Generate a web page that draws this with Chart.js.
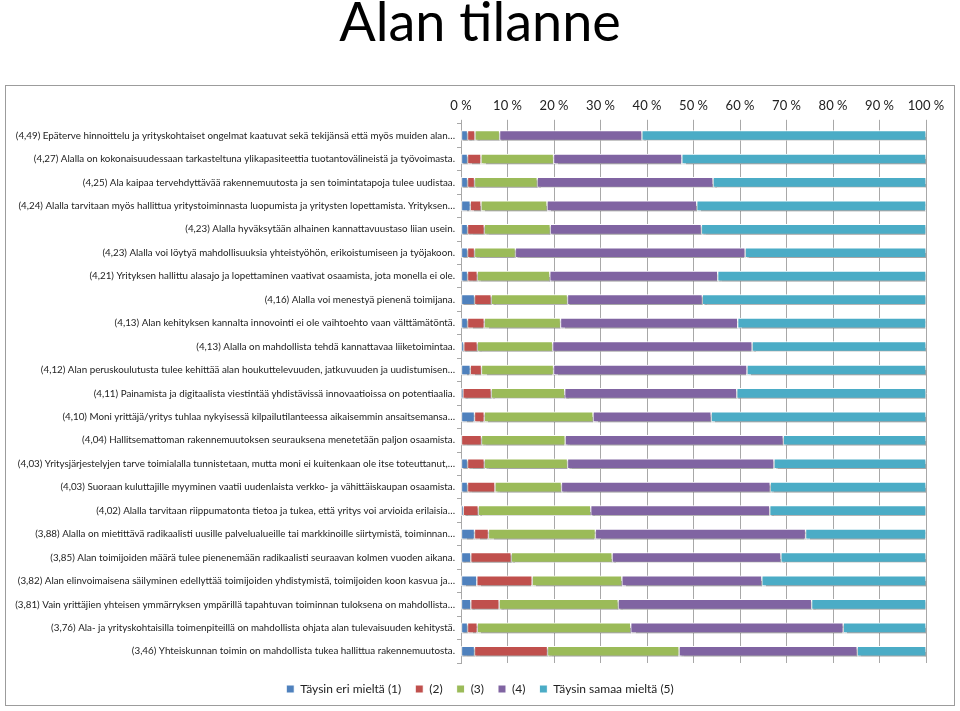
<!DOCTYPE html>
<html>
<head>
<meta charset="utf-8">
<script src="https://cdn.jsdelivr.net/npm/chart.js@4.4.1/dist/chart.umd.min.js"></script>
<style>
html,body{margin:0;padding:0;background:#fff;}
#wrap{position:relative;width:960px;height:711px;}
</style>
</head>
<body>
<div id="wrap"><canvas id="c" width="960" height="711"></canvas></div>
<script>
const titleText = "Alan tilanne";
const categories = [
  "(4,49) Epäterve hinnoittelu ja yrityskohtaiset ongelmat kaatuvat sekä tekijänsä että myös muiden alan…",
  "(4,27) Alalla on kokonaisuudessaan tarkasteltuna ylikapasiteettia tuotantovälineistä ja työvoimasta.",
  "(4,25) Ala kaipaa tervehdyttävää rakennemuutosta ja sen toimintatapoja tulee uudistaa.",
  "(4,24) Alalla tarvitaan myös hallittua yritystoiminnasta luopumista ja yritysten lopettamista. Yrityksen…",
  "(4,23) Alalla hyväksytään alhainen kannattavuustaso liian usein.",
  "(4,23) Alalla voi löytyä mahdollisuuksia yhteistyöhön, erikoistumiseen ja työjakoon.",
  "(4,21) Yrityksen hallittu alasajo ja lopettaminen vaativat osaamista, jota monella ei ole.",
  "(4,16) Alalla voi menestyä pienenä toimijana.",
  "(4,13) Alan kehityksen kannalta innovointi ei ole vaihtoehto vaan välttämätöntä.",
  "(4,13) Alalla on mahdollista tehdä kannattavaa liiketoimintaa.",
  "(4,12) Alan peruskoulutusta tulee kehittää alan houkuttelevuuden, jatkuvuuden ja uudistumisen…",
  "(4,11) Painamista ja digitaalista viestintää yhdistävissä innovaatioissa on potentiaalia.",
  "(4,10) Moni yrittäjä/yritys tuhlaa nykyisessä kilpailutilanteessa aikaisemmin ansaitsemansa…",
  "(4,04) Hallitsemattoman rakennemuutoksen seurauksena menetetään paljon osaamista.",
  "(4,03) Yritysjärjestelyjen tarve toimialalla tunnistetaan, mutta moni ei kuitenkaan ole itse toteuttanut,…",
  "(4,03) Suoraan kuluttajille myyminen vaatii uudenlaista verkko- ja vähittäiskaupan osaamista.",
  "(4,02) Alalla tarvitaan riippumatonta tietoa ja tukea, että yritys voi arvioida erilaisia…",
  "(3,88) Alalla on mietittävä radikaalisti uusille palvelualueille tai markkinoille siirtymistä, toiminnan…",
  "(3,85) Alan toimijoiden määrä tulee pienenemään radikaalisti seuraavan kolmen vuoden aikana.",
  "(3,82) Alan elinvoimaisena säilyminen edellyttää toimijoiden yhdistymistä, toimijoiden koon kasvua ja…",
  "(3,81) Vain yrittäjien yhteisen ymmärryksen ympärillä tapahtuvan toiminnan tuloksena on mahdollista…",
  "(3,76) Ala- ja yrityskohtaisilla toimenpiteillä on mahdollista ohjata alan tulevaisuuden kehitystä.",
  "(3,46) Yhteiskunnan toimin on mahdollista tukea hallittua rakennemuutosta."
];
const seriesNames = ["Täysin eri mieltä (1)", "(2)", "(3)", "(4)", "Täysin samaa mieltä (5)"];
const s1 = [1.4, 1.4, 1.4, 2.0, 1.4, 1.4, 1.4, 2.9, 1.4, 0.6, 2.0, 0.4, 2.9, 0.0, 1.4, 1.4, 0.5, 2.9, 2.1, 3.4, 2.1, 1.4, 2.9];
const s2 = [1.6, 2.9, 1.5, 2.3, 3.6, 1.5, 2.1, 3.6, 3.6, 2.9, 2.4, 6.1, 2.1, 4.4, 3.6, 5.9, 3.2, 3.0, 8.7, 11.9, 6.1, 2.1, 15.7];
const s3 = [5.3, 15.6, 13.5, 14.2, 14.2, 8.8, 15.6, 16.4, 16.4, 16.2, 15.5, 15.8, 23.4, 18.0, 17.9, 14.3, 24.2, 23.0, 21.7, 19.3, 25.6, 33.0, 28.3];
const s4 = [30.6, 27.6, 37.8, 32.2, 32.5, 49.4, 36.1, 29.0, 38.1, 42.9, 41.6, 37.0, 25.4, 46.9, 44.4, 44.9, 38.5, 45.2, 36.3, 30.1, 41.6, 45.7, 38.3];
const s5 = [61.1, 52.5, 45.8, 49.3, 48.3, 38.9, 44.8, 48.1, 40.5, 37.4, 38.5, 40.7, 46.2, 30.7, 32.7, 33.5, 33.6, 25.9, 31.2, 35.3, 24.6, 17.8, 14.8];
const xTicks = [0, 10, 20, 30, 40, 50, 60, 70, 80, 90, 100];
const colors = ["#4F81BD", "#C0504D", "#9BBB59", "#8064A2", "#4BACC6"];

const seriesValues = [s1, s2, s3, s4, s5];
const FONT = 'Lato, "Open Sans", sans-serif';

const frame = {
  id: 'frame',
  beforeDraw(chart) {
    const ctx = chart.ctx;
    ctx.save();
    ctx.strokeStyle = '#9c9c9c';
    ctx.lineWidth = 1;
    ctx.strokeRect(5.5, 85.5, 949, 620);
    ctx.restore();
  }
};
const shadow = {
  id: 'shadow',
  beforeDatasetsDraw(chart) {
    const ctx = chart.ctx;
    ctx.save();
    ctx.shadowColor = 'rgba(0,0,0,0.35)';
    ctx.shadowOffsetX = 1;
    ctx.shadowOffsetY = 2;
    ctx.shadowBlur = 1.5;
  },
  afterDatasetsDraw(chart) {
    chart.ctx.restore();
  }
};

const blankAxis = (position, size) => ({
  type: 'linear',
  position: position,
  display: true,
  grid: { display: false },
  ticks: { display: false },
  border: { display: false },
  afterFit(scale) {
    if (position === 'bottom' || position === 'top') scale.height = size; else scale.width = size;
  }
});

new Chart(document.getElementById('c'), {
  type: 'bar',
  data: {
    labels: categories,
    datasets: seriesValues.map((v, i) => ({
      label: seriesNames[i],
      data: v,
      xAxisID: 'x',
      yAxisID: 'y',
      backgroundColor: colors[i],
      borderColor: '#ffffff',
      borderWidth: 1,
      borderSkipped: false,
      barThickness: 10
    }))
  },
  options: {
    indexAxis: 'y',
    responsive: false,
    animation: false,
    layout: { padding: { left: 0, right: 0, top: 0, bottom: 6 } },
    plugins: {
      tooltip: { enabled: false },
      title: {
        display: true,
        text: titleText,
        color: '#000',
        font: { family: FONT, size: 54, weight: 'normal' },
        padding: { top: -9, bottom: 29 }
      },
      legend: {
        position: 'bottom',
        labels: {
          boxWidth: 8, boxHeight: 8,
          color: '#222',
          font: { family: FONT, size: 12 },
          padding: 14
        }
      }
    },
    scales: {
      x: {
        position: 'top',
        stacked: true,
        min: 0, max: 100,
        afterBuildTicks(scale) { scale.ticks = xTicks.map(v => ({ value: v })); },
        ticks: {
          callback: v => v + ' %',
          color: '#222',
          font: { family: FONT, size: 13 },
          padding: 6,
          maxRotation: 0
        },
        grid: { color: '#a8a8a8', lineWidth: 1, drawTicks: true, tickLength: 4 },
        border: { display: false },
        afterFit(scale) { scale.height = 39; }
      },
      gapB: blankAxis('bottom', 6),
      gapR: blankAxis('right', 34),
      y: {
        type: 'category',
        stacked: true,
        ticks: {
          color: '#222',
          font: { family: FONT, size: 9.8 },
          padding: 2,
          autoSkip: false
        },
        grid: { display: true, drawOnChartArea: false, drawTicks: true, tickLength: 4, color: '#a8a8a8', offset: true },
        border: { display: true, color: '#a8a8a8' },
        afterFit(scale) { scale.width = 461; }
      }
    }
  },
  plugins: [frame, shadow]
});
</script>
</body>
</html>
